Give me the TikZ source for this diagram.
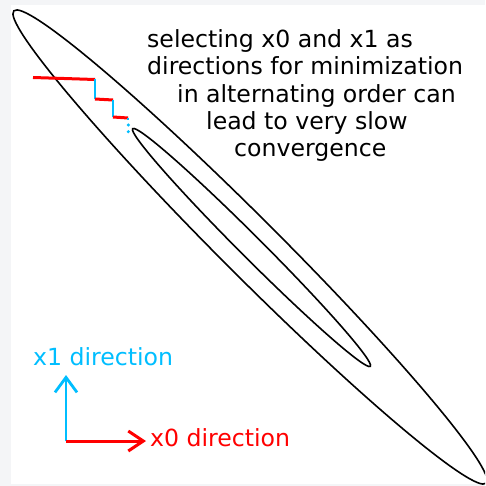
\documentclass[tikz,border=0pt]{standalone}
\usepackage{fontspec}
\setmainfont{DejaVu Sans}
\usepackage{xcolor}
\usetikzlibrary{arrows.meta}
\definecolor{StepRed}{RGB}{255,0,0}
\definecolor{StepCyan}{RGB}{0,190,255}
\definecolor{PageGray}{RGB}{244,245,247}

\begin{document}
\begin{tikzpicture}[x=1pt, y=-1pt,
	every node/.style={inner sep=0pt, font=\fontsize{23.6}{27.4}\selectfont},
	contour/.style={line width=1.6pt, black},
	xzero/.style={line width=3.0pt, StepRed},
	xone/.style={line width=2.8pt, StepCyan}]
		% 背景
		\fill[PageGray] (0,0) rectangle (485,486);
		\fill[white] (11,5) rectangle (485,484);
		\useasboundingbox (0,0) rectangle (485,486);
		\begin{scope}
		\clip (11,5) rectangle (485,484);
		
		% 等高线 (两个椭圆)
		\coordinate (Cout) at (250,247);
		\coordinate (Cin) at (251.5,247.5);
		\draw[contour, rotate around={-45:(Cout)}] (Cout) ellipse [x radius=334, y radius=29];
		\draw[contour, rotate around={-45:(Cin)}] (Cin) ellipse [x radius=168, y radius=11];
		\end{scope}
		
		% 交替方向的折线
		\coordinate (P0) at (33,77.5);
		\coordinate (P1) at (95,79.5);
		\coordinate (P2) at (95,99);
		\coordinate (P3) at (113,100);
		\coordinate (P4) at (113,117);
		\coordinate (P5) at (128,118);
		\coordinate (P6) at (128,120);
		\draw[xzero] (P0) -- (P1);
		\draw[xone] (P1) -- (P2);
		\draw[xzero] (P2) -- (P3);
		\draw[xone] (P3) -- (P4);
		\draw[xzero] (P4) -- (P5);
		\draw[xone] (P5) -- (P6);
		\fill[StepCyan] (128.3,125) circle (1.7pt);
		\fill[StepCyan] (128.3,131.7) circle (1.7pt);
		
		% 说明文字
		\node[anchor=base west] (line1) at (147,47.3) {selecting x0 and x1 as};
		\node[anchor=base west] (line2) at (147,75) {directions for minimization};
		\node[anchor=base west] (line3) at (177,102.3) {in alternating order can};
		\node[anchor=base west] (line4) at (206,130) {lead to very slow};
		\node[anchor=base west] (line5) at (234,156.7) {convergence};
		
		% 方向箭头
		\coordinate (O) at (66,441);
		\coordinate (X1) at (66,375);
		\coordinate (X0) at (146,441);
		\draw[xone, -{Straight Barb[length=15pt, width=22pt]}] (O) -- (X1);
		\draw[xzero, -{Straight Barb[length=15pt, width=20pt]}] (O) -- (X0);
		\node[anchor=base west, text=StepCyan] (x1dir) at (33,365) {x1 direction};
		\node[anchor=base west, text=StepRed] (x0dir) at (150,446.7) {x0 direction};
	\end{tikzpicture}
\end{document}
